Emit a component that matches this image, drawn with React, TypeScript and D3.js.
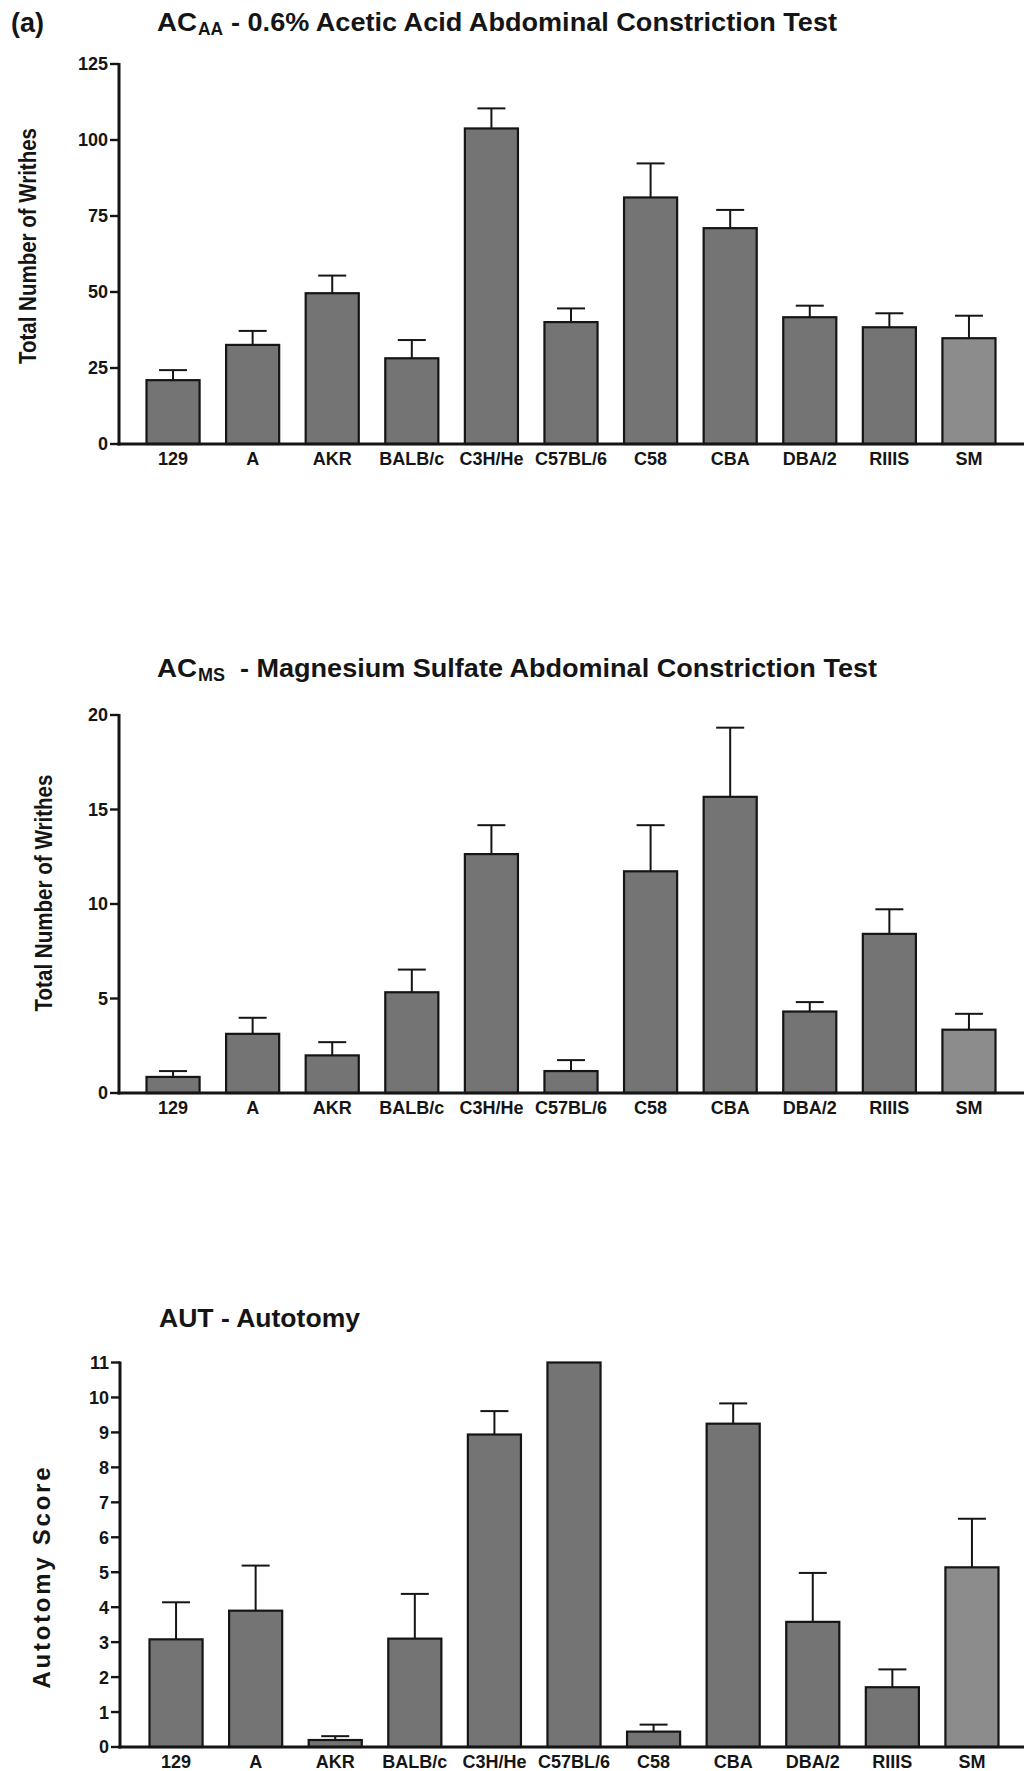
import React from "react";
import * as d3 from "d3";

// ---------- data ----------
const strains = ["129", "A", "AKR", "BALB/c", "C3H/He", "C57BL/6", "C58", "CBA", "DBA/2", "RIIIS", "SM"];

const aceticMeans = [21.0, 32.6, 49.6, 28.2, 103.8, 40.1, 81.1, 71.0, 41.7, 38.4, 34.8];
const aceticErrors = [3.3, 4.6, 5.8, 6.0, 6.6, 4.5, 11.2, 6.0, 3.8, 4.6, 7.4];
const aceticTicks = [0, 25, 50, 75, 100, 125];

const mgso4Means = [0.85, 3.13, 1.99, 5.33, 12.64, 1.16, 11.73, 15.67, 4.31, 8.42, 3.35];
const mgso4Errors = [0.31, 0.85, 0.7, 1.2, 1.53, 0.58, 2.44, 3.66, 0.5, 1.3, 0.84];
const mgso4Ticks = [0, 5, 10, 15, 20];

const autotomyMeans = [3.08, 3.9, 0.2, 3.1, 8.94, 11.0, 0.44, 9.25, 3.58, 1.71, 5.14];
const autotomyErrors = [1.06, 1.29, 0.11, 1.28, 0.67, 0, 0.2, 0.58, 1.4, 0.51, 1.39];
const autotomyTicks = [0, 1, 2, 3, 4, 5, 6, 7, 8, 9, 10, 11];

// ---------- styles ----------
const FONT = "'Liberation Sans', Arial, Helvetica, sans-serif";
const INK = "#151515";
const barFill = (i: number, n: number) => (i === n - 1 ? "#8c8c8c" : "#747474");

type PanelProps = {
  means: number[];
  errors: number[];
  ticks: number[];
  yMax: number;
  top: number;
  bottom: number;
  xRange: [number, number];
  axisX: number;
  yLabel: string;
  yLabelX: number;
  yLabelY: number;
  yLabelLen: number;
  yLabelSize: number;
  yLabelAdjust: "spacing" | "spacingAndGlyphs";
};

function Panel(p: PanelProps) {
  const x = d3.scaleBand<string>().domain(strains).range(p.xRange).paddingInner(0.333).paddingOuter(0.333);
  const y = d3.scaleLinear().domain([0, p.yMax]).range([p.bottom, p.top]);
  const bw = x.bandwidth();
  const capW = 28;
  return (
    <g>
      {strains.map((s, i) => {
        const x0 = x(s)!;
        const yt = y(Math.min(p.means[i], p.yMax));
        return (
          <rect
            key={"b" + s}
            x={x0}
            y={yt}
            width={bw}
            height={p.bottom - yt}
            fill={barFill(i, strains.length)}
            stroke={INK}
            strokeWidth={2.2}
          />
        );
      })}
      {strains.map((s, i) => {
        if (!p.errors[i]) return null;
        const cx = x(s)! + bw / 2;
        const yt = y(p.means[i]);
        const ye = y(p.means[i] + p.errors[i]);
        return (
          <g key={"e" + s} stroke={INK} strokeWidth={2}>
            <line x1={cx} x2={cx} y1={yt} y2={ye} />
            <line x1={cx - capW / 2} x2={cx + capW / 2} y1={ye} y2={ye} />
          </g>
        );
      })}
      <line x1={p.axisX} x2={p.axisX} y1={y(p.yMax) - 1} y2={p.bottom + 1.5} stroke={INK} strokeWidth={3} />
      {p.ticks.map((t) => (
        <g key={"t" + t}>
          <line x1={p.axisX - 9} x2={p.axisX} y1={y(t)} y2={y(t)} stroke={INK} strokeWidth={2.4} />
          <text
            x={p.axisX - 11}
            y={y(t)}
            dy="0.36em"
            textAnchor="end"
            fontFamily={FONT}
            fontWeight="bold"
            fontSize={18}
            fill={INK}
          >
            {t}
          </text>
        </g>
      ))}
      <line x1={p.axisX - 1.5} x2={1024} y1={p.bottom} y2={p.bottom} stroke={INK} strokeWidth={3} />
      {strains.map((s) => (
        <text
          key={"l" + s}
          x={x(s)! + bw / 2}
          y={p.bottom + 21}
          textAnchor="middle"
          fontFamily={FONT}
          fontWeight="bold"
          fontSize={18}
          fill={INK}
        >
          {s}
        </text>
      ))}
      <text
        transform={`translate(${p.yLabelX},${p.yLabelY}) rotate(-90)`}
        textAnchor="middle"
        fontFamily={FONT}
        fontWeight="bold"
        fontSize={p.yLabelSize}
        fill={INK}
        textLength={p.yLabelLen}
        lengthAdjust={p.yLabelAdjust}
      >
        {p.yLabel}
      </text>
    </g>
  );
}

function Title(props: {
  x: number;
  y: number;
  main: string;
  mainX: number;
  mainLen: number;
  head?: string;
  headLen?: number;
  sub?: string;
  subLen?: number;
}) {
  const { x, y } = props;
  return (
    <g fontFamily={FONT} fontWeight="bold" fill={INK}>
      {props.head && (
        <text x={x} y={y} fontSize={25} textLength={props.headLen} lengthAdjust="spacingAndGlyphs">
          {props.head}
        </text>
      )}
      {props.sub && (
        <text x={x + (props.headLen || 0) + 1} y={y + 4} fontSize={18} textLength={props.subLen} lengthAdjust="spacingAndGlyphs">
          {props.sub}
        </text>
      )}
      <text x={props.mainX} y={y} fontSize={25} textLength={props.mainLen} lengthAdjust="spacingAndGlyphs">
        {props.main}
      </text>
    </g>
  );
}

export default function App() {
  return (
    <svg
      width={1027}
      height={1771}
      viewBox="0 0 1027 1771"
      style={{ position: "absolute", left: 0, top: 0, background: "#fff" }}
    >
      <rect width={1027} height={1771} fill="#fff" />
      <text x={11} y={32} fontFamily={FONT} fontWeight="bold" fontSize={27} fill={INK}>
        (a)
      </text>

      <Title x={157} y={31} head="AC" headLen={40} sub="AA" subLen={25} mainX={231} main="- 0.6% Acetic Acid Abdominal Constriction Test" mainLen={606} />
      <Panel
        means={aceticMeans}
        errors={aceticErrors}
        ticks={aceticTicks}
        yMax={125}
        top={64}
        bottom={444}
        xRange={[120, 1022]}
        axisX={119}
        yLabel="Total Number of Writhes"
        yLabelX={36}
        yLabelY={246}
        yLabelLen={236}
        yLabelSize={23}
        yLabelAdjust="spacingAndGlyphs"
      />

      <Title x={157} y={677} head="AC" headLen={40} sub="MS" subLen={27} mainX={240} main="- Magnesium Sulfate Abdominal Constriction Test" mainLen={637} />
      <Panel
        means={mgso4Means}
        errors={mgso4Errors}
        ticks={mgso4Ticks}
        yMax={20}
        top={715}
        bottom={1093}
        xRange={[120, 1022]}
        axisX={119}
        yLabel="Total Number of Writhes"
        yLabelX={52}
        yLabelY={893}
        yLabelLen={237}
        yLabelSize={23}
        yLabelAdjust="spacingAndGlyphs"
      />

      <Title x={159} y={1327} mainX={159} main="AUT - Autotomy" mainLen={201} />
      <Panel
        means={autotomyMeans}
        errors={autotomyErrors}
        ticks={autotomyTicks}
        yMax={11}
        top={1362.5}
        bottom={1747}
        xRange={[123, 1025]}
        axisX={120}
        yLabel="Autotomy Score"
        yLabelX={50}
        yLabelY={1578}
        yLabelLen={221}
        yLabelSize={24}
        yLabelAdjust="spacing"
      />
    </svg>
  );
}
